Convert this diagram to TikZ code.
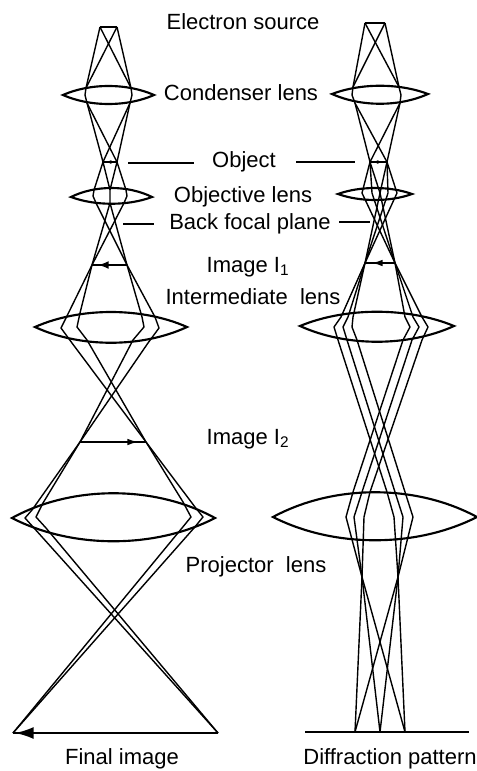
\documentclass[tikz,border=0pt]{standalone}
\usepackage{fontspec}
\setmainfont{Liberation Sans}
\usetikzlibrary{arrows.meta}

\begin{document}
\begin{tikzpicture}[
      x=0.75pt, y=-0.75pt,
      lbl/.style={inner sep=0pt, font=\fontsize{16.5}{18}\selectfont},
      ray/.style={line width=1.05pt, line join=round},
      lens/.style={line width=1.6pt, line join=miter},
      leader/.style={line width=1.2pt},
      bar/.style={line width=1.6pt},
    ]
      \useasboundingbox (0,0) rectangle (477,771);
      % labels
      \node[lbl] (lsource) at (243,22)  {Electron source};
      \node[lbl] (lcond)   at (241,93)  {Condenser lens};
      \node[lbl] (lobject) at (244,162) {Object};
      \node[lbl] (lobj)    at (243,197) {Objective lens};
      \node[lbl] (lback)   at (250,224) {Back focal plane};
      \node[lbl] (limg1)   at (248,267) {Image I\textsubscript{1}};
      \node[lbl] (linter)  at (253,297) {Intermediate\ \ lens};
      \node[lbl] (limg2)   at (248,439) {Image I\textsubscript{2}};
      \node[lbl] (lproj)   at (256,567) {Projector\ \ lens};
      \node[lbl] (lfinal)  at (122,759) {Final image};
      \node[lbl] (ldiff)   at (390,759) {Diffraction pattern};
      % leader ends
      \coordinate (oa1) at (128,163); \coordinate (oa2) at (194,163);
      \coordinate (ob1) at (296,162); \coordinate (ob2) at (355,162);
      \coordinate (ba1) at (123,224); \coordinate (ba2) at (154,224);
      \coordinate (bb1) at (339,222); \coordinate (bb2) at (370,222);
      \draw[leader] (oa1)--(oa2); \draw[leader] (ob1)--(ob2);
      \draw[leader] (ba1)--(ba2); \draw[leader] (bb1)--(bb2);

      % left column, lenses
      \draw[lens] (63,95) .. controls (90,83) and (127,83) .. (154,95) .. controls (127,107) and (90,107) .. cycle;
      \draw[lens] (71,197) .. controls (95,185) and (128,185) .. (152,197) .. controls (128,206) and (95,206) .. cycle;
      \draw[lens] (35,327) .. controls (80,307) and (142,307) .. (187,327) .. controls (142,348) and (80,348) .. cycle;
      \draw[lens] (12,518) .. controls (72,485) and (155,485) .. (215,518) .. controls (155,549) and (72,549) .. cycle;
      % left column, ray hubs
      \coordinate (sa) at (100,27);  \coordinate (sb) at (117,27);
      \coordinate (ca) at (87,103);  \coordinate (cb) at (130,103);
      \coordinate (oa) at (103,162); \coordinate (ob) at (117,162);
      \coordinate (ma) at (110,190); \coordinate (mb) at (110,203);
      \coordinate (ia) at (92,265);  \coordinate (ib) at (127,265);
      \coordinate (ja) at (80,442);  \coordinate (jb) at (146,442);
      \coordinate (fa) at (13,733);  \coordinate (fb) at (218,733);
      % left column, rays
      \draw[bar] (sa)--(sb);
      \draw[ray] (sa)--(86,88)--(85,95)--(ca); \draw[ray] (sa)--(131,88)--(132,95)--(cb);
      \draw[ray] (sb)--(86,88); \draw[ray] (sb)--(131,88);
      \draw[ray] (ca)--(oa); \draw[ray] (ca)--(ob); \draw[ray] (cb)--(oa); \draw[ray] (cb)--(ob);
      \draw[ray] (oa)--(ma)--(mb); \draw[ray] (ob)--(ma);
      \draw[ray] (oa)--(94,190)--(93,196)--(96,203)--(ib);
      \draw[ray] (ob)--(126,190)--(127,196)--(124,203)--(ia);
      \draw[ray] (mb)--(ia); \draw[ray] (mb)--(ib);
      \draw[ray] (ia)--(66,318)--(61,328)--(72,343)--(jb);
      \draw[ray] (ia)--(80,313)--(77,327)--(87,340)--(jb);
      \draw[ray] (ib)--(142,317)--(144,327)--(133,340)--(ja);
      \draw[ray] (ib)--(155,317)--(159,328)--(148,343)--(ja);
      \draw[ray] (ja)--(32,510)--(25,518)--(34,528)--(fb);
      \draw[ray] (ja)--(43,503)--(36,517)--(46,528)--(fb);
      \draw[ray] (jb)--(183,502)--(191,517)--(182,528)--(fa);
      \draw[ray] (jb)--(195,507)--(203,517)--(194,528)--(fa);
      % left column, images
      \coordinate (tobj) at (106,162); \coordinate (tia) at (98,265);
      \coordinate (tja) at (138,442);  \coordinate (tfa) at (15,733);
      \draw[ray] (ob)--(oa);
      \draw[ray, -{Latex[length=4pt, width=3pt]}] (ob)--(tobj);
      \draw[bar] (ib)--(ia);
      \draw[bar, -{Latex[length=8pt, width=6pt]}] (ib)--(tia);
      \draw[ray] (ja)--(jb);
      \draw[ray, -{Latex[length=8pt, width=5pt]}] (ja)--(tja);
      \draw[bar, line width=1.9pt] (fb)--(fa);
      \draw[bar, -{Latex[length=14pt, width=9pt]}] (fb)--(tfa);

      % right column, lenses
      \draw[lens] (332,94) .. controls (361,83) and (399,83) .. (428,94) .. controls (399,107) and (361,107) .. cycle;
      \draw[lens] (338,194) .. controls (360,186) and (390,186) .. (412,194) .. controls (390,202) and (360,202) .. cycle;
      \draw[lens] (300,326) .. controls (346,307) and (408,307) .. (454,326) .. controls (408,347) and (346,347) .. cycle;
      \draw[lens] (273,517) .. controls (334,484) and (416,484) .. (477,517) .. controls (416,548) and (334,548) .. cycle;
      % right column, ray hubs
      \coordinate (ra) at (365,23);  \coordinate (rb) at (385,23);
      \coordinate (da) at (355,103); \coordinate (db) at (400,103);
      \coordinate (pa) at (370,162); \coordinate (pb) at (387,162);
      \coordinate (qm) at (380,193);
      \coordinate (qa) at (365,263); \coordinate (qb) at (395,263);
      \coordinate (ua) at (362,577); \coordinate (ub) at (398,577);
      \coordinate (va) at (355,732); \coordinate (vm) at (380,732); \coordinate (vb) at (405,732);
      \coordinate (wa) at (305,732); \coordinate (wb) at (469,732);
      % right column, rays
      \draw[bar] (ra)--(rb);
      \draw[ray] (ra)--(353,87)--(352,95)--(da); \draw[ray] (ra)--(399,87)--(401,95)--(db);
      \draw[ray] (rb)--(353,87); \draw[ray] (rb)--(399,87);
      \draw[ray] (da)--(pa); \draw[ray] (da)--(pb); \draw[ray] (db)--(pa); \draw[ray] (db)--(pb);
      \draw[ray] (pa)--(362,193)--(qb); \draw[ray] (pa)--(372,193)--(qb); \draw[ray] (pa)--(qm)--(qb);
      \draw[ray] (pb)--(qm)--(qa); \draw[ray] (pb)--(388,193)--(qa); \draw[ray] (pb)--(397,193)--(qa);
      \draw[ray] (qa)--(341,317)--(334,327)--(338,340)--(387,492)--(394,517)--(ub);
      \draw[ray] (qa)--(348,317)--(343,327)--(347,340)--(395,492)--(403,517)--(ub);
      \draw[ray] (qa)--(353,317)--(352,327)--(357,340)--(405,492)--(413,517)--(ub);
      \draw[ray] (qb)--(405,317)--(410,327)--(403,340)--(353,492)--(346,517)--(ua);
      \draw[ray] (qb)--(413,317)--(419,327)--(412,340)--(362,492)--(354,517)--(ua);
      \draw[ray] (qb)--(422,317)--(428,327)--(422,340)--(370,492)--(364,517)--(ua);
      \draw[ray] (ua)--(va); \draw[ray] (ua)--(vm); \draw[ray] (ua)--(vb);
      \draw[ray] (ub)--(va); \draw[ray] (ub)--(vm); \draw[ray] (ub)--(vb);
      \draw[bar] (wa)--(wb);
      % right column, images
      \coordinate (tpa) at (373,162); \coordinate (tqa) at (372,263);
      \draw[ray] (pb)--(pa);
      \draw[ray, -{Latex[length=4pt, width=3pt]}] (pb)--(tpa);
      \draw[ray] (qb)--(qa);
      \draw[ray, -{Latex[length=8pt, width=5pt]}] (qb)--(tqa);
    \end{tikzpicture}
\end{document}
